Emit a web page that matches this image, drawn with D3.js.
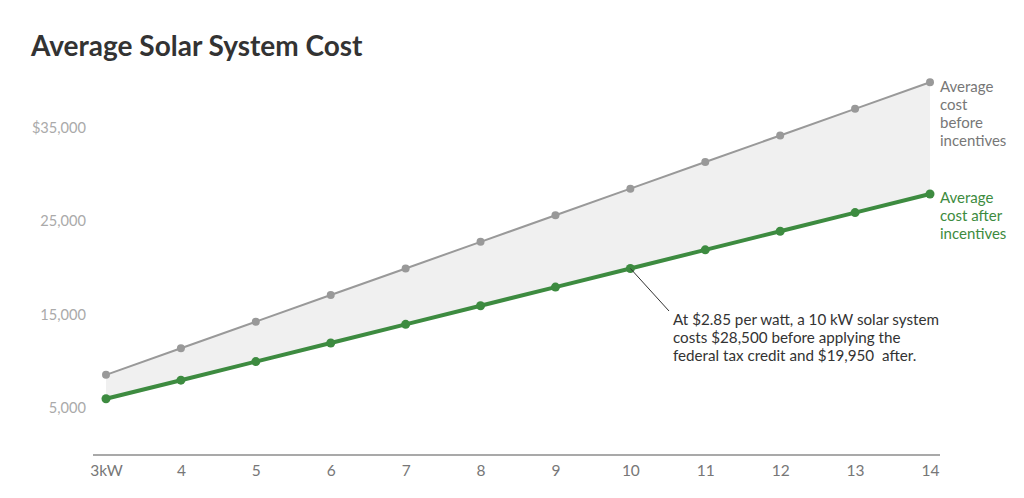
<!DOCTYPE html>
<html><head><meta charset="utf-8">
<script src="https://cdn.jsdelivr.net/npm/d3@7"></script>
<style>body{margin:0;background:#fff;font-family:Lato,sans-serif;}</style>
</head><body>
<svg id="c" width="1024" height="498"></svg>
<script>
const sizes = [3,4,5,6,7,8,9,10,11,12,13,14];
const costBefore = [8550,11400,14250,17100,19950,22800,25650,28500,31350,34200,37050,39900];
const costAfter = [5985,7980,9975,11970,13965,15960,17955,19950,21945,23940,25935,27930];
const yTicks = [5000,15000,25000,35000];
const yTickLabels = ["5,000","15,000","25,000","$35,000"];
const xTickLabels = ["3kW","4","5","6","7","8","9","10","11","12","13","14"];

const svg = d3.select("#c");
const x = d3.scaleLinear().domain([3,14]).range([106,930]);
const y = d3.scaleLinear().domain([5000,35000]).range([408,128]);

svg.append("text").attr("x",31).attr("y",56).attr("font-size",28).attr("font-weight",700)
  .attr("fill","#333").text("Average Solar System Cost");

// y labels
svg.selectAll(".yl").data(yTicks).enter().append("text")
  .attr("x",86).attr("y",d=>y(d)+5).attr("text-anchor","end").attr("font-size",14.6)
  .attr("fill","#aaa").text((d,i)=>yTickLabels[i]);

// x axis
const xAxis = d3.axisBottom(x).tickValues(sizes).tickSize(0).tickPadding(10).tickFormat((d,i)=>xTickLabels[i]);
const gx = svg.append("g").attr("transform","translate(0,455)").call(xAxis);
gx.select(".domain").remove();
gx.selectAll("text").attr("font-family","Lato,sans-serif").attr("font-size",15.5).attr("fill","#777");
svg.append("line").attr("x1",93).attr("x2",940).attr("y1",455).attr("y2",455).attr("stroke","#555").attr("stroke-width",1.2);

const data = sizes.map((s,i)=>({s,b:costBefore[i],a:costAfter[i]}));
svg.append("path").datum(data).attr("fill","#f0f0f0")
  .attr("d",d3.area().x(d=>x(d.s)).y0(d=>y(d.a)).y1(d=>y(d.b)));

svg.append("path").datum(data).attr("fill","none").attr("stroke","#999").attr("stroke-width",2)
  .attr("d",d3.line().x(d=>x(d.s)).y(d=>y(d.b)));
svg.selectAll(".db").data(data).enter().append("circle").attr("cx",d=>x(d.s)).attr("cy",d=>y(d.b)).attr("r",4).attr("fill","#999");

svg.append("path").datum(data).attr("fill","none").attr("stroke","#3d8b40").attr("stroke-width",4)
  .attr("d",d3.line().x(d=>x(d.s)).y(d=>y(d.a)));
svg.selectAll(".da").data(data).enter().append("circle").attr("cx",d=>x(d.s)).attr("cy",d=>y(d.a)).attr("r",4.5).attr("fill","#3d8b40");

// annotation
svg.append("line").attr("x1",x(10)).attr("y1",y(19950)).attr("x2",669).attr("y2",311).attr("stroke","#333").attr("stroke-width",1);
const ann = ["At $2.85 per watt, a 10 kW solar system","costs $28,500 before applying the","federal tax credit and $19,950  after."];
svg.selectAll(".ann").data(ann).enter().append("text").attr("x",673).attr("y",(d,i)=>325+i*18)
  .attr("font-size",15.2).attr("fill","#333").attr("xml:space","preserve").text(d=>d);

const lb = ["Average","cost","before","incentives"];
svg.selectAll(".lb").data(lb).enter().append("text").attr("x",940).attr("y",(d,i)=>92+i*18)
  .attr("font-size",15).attr("fill","#777").text(d=>d);
const la = ["Average","cost after","incentives"];
svg.selectAll(".la").data(la).enter().append("text").attr("x",940).attr("y",(d,i)=>203+i*18)
  .attr("font-size",15).attr("fill","#3d8b40").text(d=>d);
</script>
</body></html>
